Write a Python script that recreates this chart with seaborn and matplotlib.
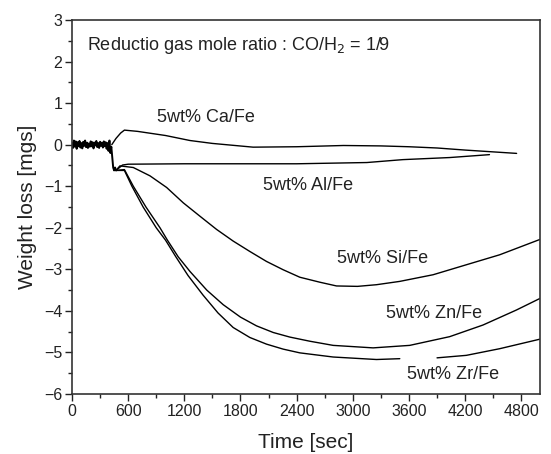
import numpy as np
import pandas as pd
import matplotlib
matplotlib.use("Agg")
import matplotlib.pyplot as plt
import seaborn as sns
from matplotlib.ticker import MultipleLocator

# ---- data ----
baseline_t = [0, 10, 20, 30, 40, 50, 60, 70, 80, 90, 100, 110, 120, 130, 140, 150,
              160, 170, 180, 190, 200, 210, 220, 230, 240, 250, 260, 270, 280, 290,
              300, 310, 320, 330, 340, 350, 360, 370, 380, 390, 400, 410, 420, 430,
              440, 450, 460, 470]
baseline_w = [0.05, -0.08, 0.10, -0.05, 0.08, -0.10, 0.06, -0.04, 0.09, -0.07, 0.04,
              -0.09, 0.07, -0.03, 0.10, -0.06, 0.05, -0.08, 0.03, -0.05, 0.08, -0.04,
              0.06, -0.09, 0.05, -0.02, 0.09, -0.06, 0.04, -0.08, 0.07, -0.03, 0.05,
              -0.07, 0.08, -0.04, 0.06, -0.10, 0.04, -0.15, 0.10, -0.20, -0.05, -0.30,
              -0.55, -0.62, -0.55, -0.62]

ca_t = [425, 470, 520, 560, 700, 1000, 1260, 1500, 1935, 2400, 2900, 3300, 3600, 3900, 4200, 4750]
ca_w = [0.0, 0.15, 0.28, 0.35, 0.32, 0.22, 0.10, 0.03, -0.06, -0.05, -0.02, -0.03, -0.05, -0.08, -0.13, -0.21]

al_t = [470, 540, 600, 1200, 1800, 2400, 3150, 3535, 4035, 4460]
al_w = [-0.62, -0.49, -0.47, -0.46, -0.46, -0.46, -0.43, -0.36, -0.31, -0.24]

si_t = [470, 512, 655, 833, 1011, 1189, 1366, 1545, 1722, 1900, 2078, 2256, 2434, 2648,
        2826, 3050, 3253, 3502, 3858, 4213, 4569, 5000]
si_w = [-0.62, -0.51, -0.55, -0.75, -1.03, -1.40, -1.72, -2.04, -2.32, -2.57, -2.81, -3.01,
        -3.19, -3.31, -3.40, -3.41, -3.37, -3.29, -3.13, -2.89, -2.65, -2.28]

zn_t = [470, 560, 655, 790, 940, 1020, 1135, 1260, 1440, 1615, 1800, 1971, 2150, 2327,
        2541, 2790, 3217, 3608, 4035, 4391, 4747, 5000]
zn_w = [-0.62, -0.60, -1.00, -1.50, -2.00, -2.30, -2.70, -3.05, -3.50, -3.85, -4.15, -4.36,
        -4.52, -4.63, -4.73, -4.83, -4.89, -4.83, -4.62, -4.34, -3.98, -3.70]

zr_t = [470, 560, 640, 760, 900, 1000, 1110, 1240, 1400, 1560, 1722, 1900, 2078, 2256,
        2434, 2790, 3253, 3502,
        3900, 4213, 4569, 5000]
zr_w = [-0.62, -0.62, -1.00, -1.50, -2.00, -2.30, -2.70, -3.15, -3.62, -4.05, -4.40, -4.64,
        -4.80, -4.92, -5.01, -5.11, -5.17, -5.15,
        -5.13, -5.07, -4.91, -4.68]
zr_seg = [0] * 18 + [1] * 4

labels = ["5wt% Ca/Fe", "5wt% Al/Fe", "5wt% Si/Fe", "5wt% Zn/Fe", "5wt% Zr/Fe"]
label_t = [907, 2039, 2829, 3352, 3580]
label_w = [0.65, -0.99, -2.73, -4.06, -5.54]

x_ticks = [0, 600, 1200, 1800, 2400, 3000, 3600, 4200, 4800]
y_ticks = [-6, -5, -4, -3, -2, -1, 0, 1, 2, 3]

# ---- build long-form table ----
frames = [
    pd.DataFrame({"t": baseline_t, "w": baseline_w, "s": "base", "u": 0}),
    pd.DataFrame({"t": ca_t, "w": ca_w, "s": "Ca", "u": 0}),
    pd.DataFrame({"t": al_t, "w": al_w, "s": "Al", "u": 0}),
    pd.DataFrame({"t": si_t, "w": si_w, "s": "Si", "u": 0}),
    pd.DataFrame({"t": zn_t, "w": zn_w, "s": "Zn", "u": 0}),
    pd.DataFrame({"t": zr_t, "w": zr_w, "s": "Zr", "u": zr_seg}),
]
df = pd.concat(frames, ignore_index=True)

sns.set_style("white")
plt.rcParams["font.family"] = ["Liberation Sans", "DejaVu Sans"]

fig = plt.figure(figsize=(5.51, 4.54), dpi=100)
ax = fig.add_axes([72 / 551, 1 - 394 / 454, (540 - 72) / 551, (394 - 20) / 454])

for name, sub in df.groupby("s", sort=False):
    sns.lineplot(data=sub, x="t", y="w", units="u", estimator=None, sort=False,
                 color="black", lw=1.0 if name != "base" else 1.4, ax=ax, legend=False)

for lab, lt, lw_ in zip(labels, label_t, label_w):
    ax.text(lt, lw_, lab, fontsize=13, ha="left", va="center", color="#222222")

ax.text(0.032, 0.933, "Reductio gas mole ratio : CO/H$_2$ = 1/9", transform=ax.transAxes,
        fontsize=13, ha="left", va="center", color="#222222")

ax.set_xlim(0, 5000)
ax.set_ylim(-6, 3)
ax.set_xticks(x_ticks)
ax.set_yticks(y_ticks)
ax.xaxis.set_minor_locator(MultipleLocator(300))
ax.yaxis.set_minor_locator(MultipleLocator(0.5))
ax.tick_params(axis="both", which="major", direction="out", length=5, width=1,
               labelsize=11.5, pad=2, colors="#222222", bottom=True, left=True)
ax.tick_params(axis="both", which="minor", direction="out", length=2.8, width=1,
               bottom=True, left=True, colors="#222222")
for sp in ax.spines.values():
    sp.set_visible(True)
    sp.set_color("#333333")
    sp.set_linewidth(1.2)

ax.set_xlabel("Time [sec]", fontsize=15, color="#222222")
ax.set_ylabel("Weight loss [mgs]", fontsize=15, color="#222222")
ax.xaxis.set_label_coords(0.5, -0.104)
ax.yaxis.set_label_coords(-0.075, 0.5)

fig.savefig("out.png", dpi=100)
